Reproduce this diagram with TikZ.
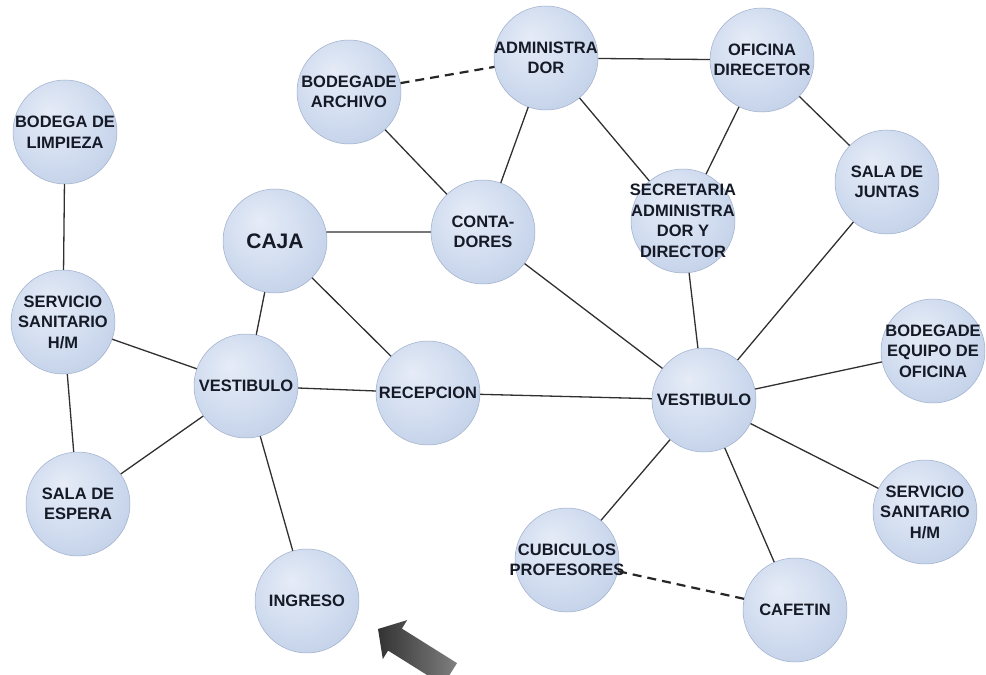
\documentclass[tikz,border=0pt]{standalone}
\usepackage{fontspec}
\setmainfont{Liberation Sans}
\usetikzlibrary{calc}

\definecolor{bubA}{HTML}{E6ECF7}
\definecolor{bubB}{HTML}{D3DEF0}
\definecolor{bubC}{HTML}{BFCEE7}
\definecolor{bubD}{HTML}{A8BAD9}
\definecolor{bubE}{HTML}{8C9FC2}
\definecolor{ink}{HTML}{151A26}
\definecolor{wire}{HTML}{303030}

% soft blue bubble, lit from the upper left
\pgfdeclareradialshading{bubble}{\pgfpoint{-8bp}{10bp}}{%
  color(0bp)=(bubA); color(18bp)=(bubB); color(35bp)=(bubC);
  color(45bp)=(bubD); color(50bp)=(bubE)}

\tikzset{
  room/.style={circle, minimum size=104bp, inner sep=0pt,
    shading=bubble, draw=bubE!85!white, line width=0.5bp},
  roomtext/.style={text=ink, align=center, inner sep=0pt,
    font=\fontsize{16.5bp}{20.5bp}\selectfont\bfseries},
  bigtext/.style={roomtext, font=\fontsize{21bp}{25bp}\selectfont\bfseries},
  link/.style={draw=wire, line width=1.3bp},
  dlink/.style={draw=wire!80!black, line width=2.2bp, dash pattern=on 9bp off 6bp},
}

\begin{document}
\begin{tikzpicture}[x=1bp, y=-1bp]
\useasboundingbox (0,0) rectangle (986,675);

% rooms
\node[room, label={[roomtext]center:BODEGA DE\\LIMPIEZA}] (limp) at (65,132) {};
\node[room, label={[roomtext]center:SERVICIO\\SANITARIO\\H/M}] (servL) at (63,322) {};
\node[room, label={[roomtext]center:SALA DE\\ESPERA}] (espera) at (78,504) {};
\node[room, label={[roomtext]center:VESTIBULO}] (vestL) at (246,386) {};
\node[room, label={[bigtext]center:CAJA}] (caja) at (275,241) {};
\node[room, label={[roomtext]center:INGRESO}] (ingreso) at (307,601) {};
\node[room, label={[roomtext]center:RECEPCION}] (recep) at (428,393) {};
\node[room, label={[roomtext]center:CONTA-\\DORES}] (conta) at (483,232) {};
\node[room, label={[roomtext]center:BODEGADE\\ARCHIVO}] (archivo) at (349,92) {};
\node[room, label={[roomtext]center:ADMINISTRA\\DOR}] (admin) at (546,58) {};
\node[room, label={[roomtext]center:OFICINA\\DIRECETOR}] (oficina) at (762,60) {};
\node[room, label={[roomtext]center:SECRETARIA\\ADMINISTRA\\DOR Y\\DIRECTOR}] (secre) at (683,221) {};
\node[room, label={[roomtext]center:SALA DE\\JUNTAS}] (juntas) at (887,182) {};
\node[room, label={[roomtext]center:VESTIBULO}] (vestR) at (704,400) {};
\node[room, label={[roomtext]center:BODEGADE\\EQUIPO DE\\OFICINA}] (equipo) at (933,351) {};
\node[room, label={[roomtext]center:SERVICIO\\SANITARIO\\H/M}] (servR) at (925,512) {};
\node[room, label={[roomtext]center:CUBICULOS\\PROFESORES}] (cubic) at (567,560) {};
\node[room, label={[roomtext]center:CAFETIN}] (cafetin) at (795,610) {};

% solid links
\path[link] (limp) -- (servL);
\path[link] (servL) -- (espera);
\path[link] (servL) -- (vestL);
\path[link] (espera) -- (vestL);
\path[link] (vestL) -- (caja);
\path[link] (vestL) -- (recep);
\path[link] (vestL) -- (ingreso);
\path[link] (caja) -- (recep);
\path[link] (caja.10) -- (conta.west);
\path[link] (conta) -- (archivo);
\path[link] (conta) -- (admin);
\path[link] (conta) -- (vestR);
\path[link] (admin) -- (oficina);
\path[link] (admin) -- (secre);
\path[link] (oficina) -- (secre);
\path[link] (oficina) -- (juntas);
\path[link] (secre) -- (vestR);
\path[link] (juntas) -- (vestR);
\path[link] (recep) -- (vestR);
\path[link] (vestR) -- (equipo);
\path[link] (vestR) -- (servR);
\path[link] (vestR) -- (cubic);
\path[link] (vestR) -- (cafetin);

% dashed links
\path[dlink] (archivo) -- (admin);
\path[dlink] (cubic) -- (cafetin);

% entrance arrow, grey with a lighter shaft
\shade[left color=black!80, middle color=black!18, right color=black!50]
  (378,629) -- (407.2,620.1) -- (401.9,628.6) -- (457.0,663.1)
  -- (443.2,685.1) -- (388.1,650.6) -- (382.8,659.1) -- cycle;
\end{tikzpicture}
\end{document}
